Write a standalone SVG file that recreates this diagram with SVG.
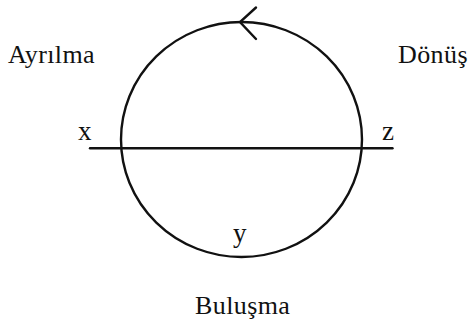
<svg xmlns="http://www.w3.org/2000/svg" width="471" height="322" viewBox="0 0 471 322">
<style>
text{font-family:"Liberation Serif","Times New Roman",serif;font-size:26px;fill:#111;letter-spacing:0.4px}
.lbl{font-size:27px;letter-spacing:0}
.ln{fill:none;stroke:#111;stroke-width:2.4;stroke-linecap:round}
</style>
<rect width="471" height="322" fill="#fff"/>
<g id="connectors">
<ellipse class="ln" cx="241.5" cy="139.5" rx="120.5" ry="117.5"/>
<path class="ln" d="M256,7.5 L240,22 L256,39"/>
<line class="ln" x1="90" y1="148.3" x2="392.5" y2="148.3" stroke-width="2"/>
</g>
<g id="x"><text class="lbl" x="78" y="140">x</text></g>
<g id="z"><text class="lbl" x="382" y="140">z</text></g>
<g id="y"><text class="lbl" x="233" y="242">y</text></g>
<g id="ayrilma"><text x="8" y="63">Ayrılma</text></g>
<g id="donus"><text x="398" y="63">Dönüş</text></g>
<g id="bulusma"><text x="195" y="314">Buluşma</text></g>
</svg>
